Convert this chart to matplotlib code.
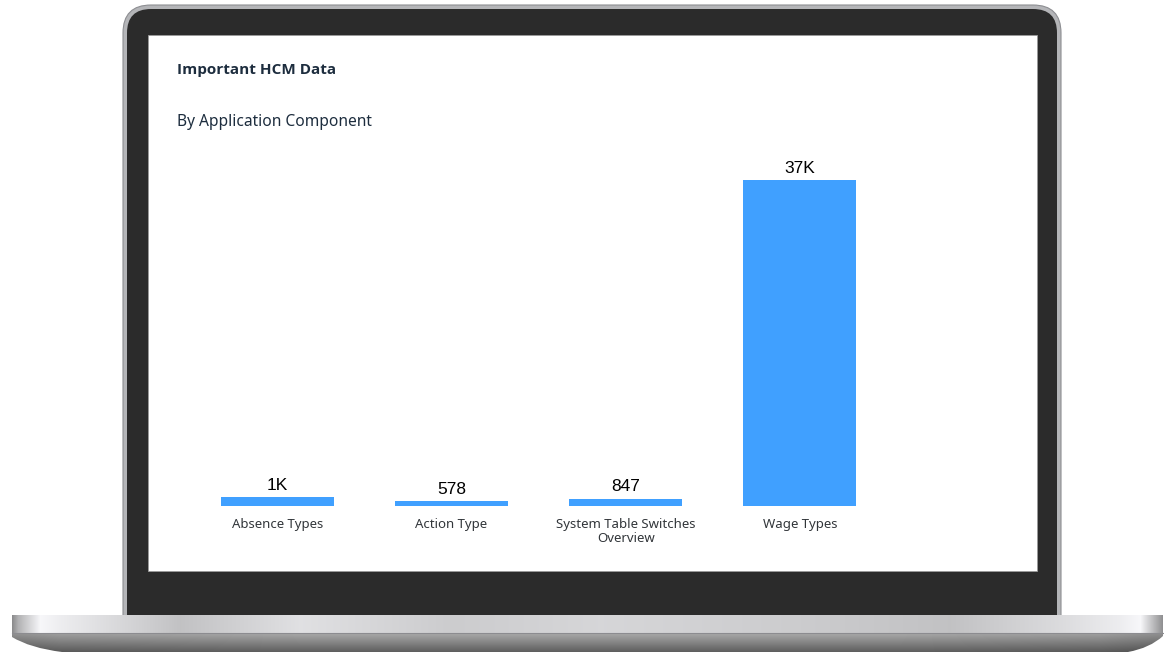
import matplotlib
matplotlib.use('Agg')
import matplotlib.pyplot as plt
from matplotlib.patches import FancyBboxPatch, Rectangle, PathPatch
from matplotlib.path import Path
import numpy as np

# chart data
title = 'Important HCM Data'
subtitle = 'By Application Component'
categories = ['Absence Types', 'Action Type', 'System Table Switches\nOverview', 'Wage Types']
values = [1040, 578, 847, 37000]
value_labels = ['1K', '578', '847', '37K']

bar_color = '#40a0ff'
text_color = '#1d2d3e'

W, H = 1164, 652
fig = plt.figure(figsize=(W / 100, H / 100), dpi=100)

# background axes in pixel coordinates (y down)
bg = fig.add_axes([0, 0, 1, 1])
bg.set_xlim(0, W)
bg.set_ylim(H, 0)
bg.axis('off')

# laptop lid: silver rim + black bezel
rim = FancyBboxPatch((123, 5), 938, 640, boxstyle='round,pad=0,rounding_size=28',
                     facecolor='#b4b5b8', edgecolor='#8d8e92', lw=0.8, zorder=1)
bg.add_patch(rim)
bezel = FancyBboxPatch((127, 9), 930, 636, boxstyle='round,pad=0,rounding_size=24',
                       facecolor='#2b2b2b', edgecolor='none', zorder=2)
bg.add_patch(bezel)
screen = Rectangle((148, 35), 889, 536, facecolor='white', edgecolor='#9a9a9a',
                   lw=0.6, zorder=3)
bg.add_patch(screen)

# laptop base: top silver strip
xs = np.arange(0, W)
stops_x = [12, 18, 40, 60, 110, 180, 300, 450, 600, 800, 950, 1060, 1120, 1140, 1152, 1163]
stops_g = [0.55, 0.70, 0.97, 0.93, 0.86, 0.76, 0.88, 0.80, 0.84, 0.80, 0.76, 0.86, 0.93, 0.97, 0.75, 0.55]
row = np.interp(xs, stops_x, stops_g)
strip = np.tile(row, (18, 1))
strip_img = np.clip(np.dstack([strip, strip, strip * 1.01]), 0, 1)
top_path = Path([(12, 615), (1163, 615), (1163, 633), (12, 633), (12, 615)],
                [Path.MOVETO, Path.LINETO, Path.LINETO, Path.LINETO, Path.CLOSEPOLY])
top_patch = PathPatch(top_path, facecolor='none', edgecolor='none', zorder=5)
bg.add_patch(top_patch)
im1 = bg.imshow(strip_img, extent=(0, W, 633, 615), aspect='auto', zorder=5,
                interpolation='bilinear')
im1.set_clip_path(top_patch)

# base bottom: darker, curved ends
col = np.linspace(0.66, 0.36, 20)
bottom = np.tile(col[:, None], (1, W))
shade = np.interp(xs, [0, 60, 300, 582, 900, 1100, W], [0.85, 0.95, 1.0, 1.0, 1.0, 0.95, 0.85])
bottom = bottom * shade[None, :]
bottom_img = np.dstack([bottom, bottom, bottom])
bot_path = Path([(12, 633), (1163, 633), (1163, 636), (1150, 648), (1128, 652),
                 (62, 652), (30, 648), (12, 637), (12, 633), (12, 633)],
                [Path.MOVETO, Path.LINETO, Path.LINETO, Path.CURVE3, Path.CURVE3,
                 Path.LINETO, Path.CURVE3, Path.CURVE3, Path.LINETO, Path.CLOSEPOLY])
bot_patch = PathPatch(bot_path, facecolor='none', edgecolor='none', zorder=5)
bg.add_patch(bot_patch)
im2 = bg.imshow(bottom_img, extent=(0, W, 653, 633), aspect='auto', zorder=5,
                interpolation='bilinear')
im2.set_clip_path(bot_patch)
bg.plot([12, 1163], [633, 633], color='#8c8c90', lw=0.8, zorder=6)

# titles
bg.text(177, 70, title, fontsize=11, fontweight='bold', color=text_color,
        family='Open Sans', va='center', ha='left', zorder=10)
bg.text(177, 122, subtitle, fontsize=11.2, color=text_color,
        family='Noto Sans', va='center', ha='left', zorder=10)

# bar chart axes
top_px, base_px = 150, 506
ax = fig.add_axes([190 / W, (H - base_px) / H, 697 / W, (base_px - top_px) / H])
ax.set_facecolor('none')
x = np.arange(len(categories))
bars = ax.bar(x, values, width=0.648, color=bar_color, zorder=3)
ax.set_xlim(-0.5, len(categories) - 0.5)
ax.set_ylim(0, 37000 * (base_px - top_px) / (base_px - 180))
ax.bar_label(bars, labels=value_labels, padding=3, fontsize=12.5, color='black',
             family='Liberation Sans')
ax.set_xticks(x)
ax.set_xticklabels(categories, fontsize=9.5, color='#32363a', family='Noto Sans',
                   linespacing=1.15)
ax.tick_params(axis='x', length=0, pad=8.5)
ax.set_yticks([])
for s in ax.spines.values():
    s.set_visible(False)

fig.savefig('out.png', dpi=100)
